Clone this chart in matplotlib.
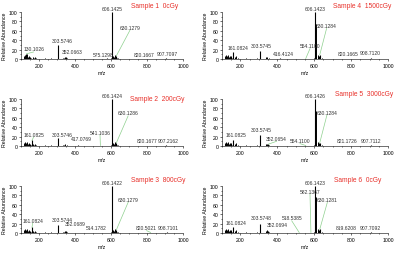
import matplotlib
matplotlib.use("Agg")
import matplotlib.pyplot as plt
from matplotlib.ticker import MultipleLocator

plt.rcParams['font.family'] = ['Liberation Sans', 'DejaVu Sans']

# panel titles
titles = ["Sample 1  0cGy", "Sample 4  1500cGy", "Sample 2  200cGy",
          "Sample 5  3000cGy", "Sample 3  800cGy", "Sample 6  0cGy"]

# unlabeled peaks, shared m/z positions
minor_mz = [115, 120, 124, 128, 133, 137, 142, 147, 151, 156, 168, 172, 178,
            185, 198, 215, 232, 250, 268, 288, 320, 336, 341, 346, 357, 364,
            380, 450, 505, 590, 598, 607.15, 612, 618, 622, 626, 634, 640,
            660, 700, 860, 950]
minor_int = [
    [6, 9, 4, 7, 10, 5, 6, 4, 5, 3, 4, 3, 5, 2, 1, 1, 2, 1, 2, 1, 1, 2, 3, 4, 2, 1,
     1, 1, 1, 1, 2, 76, 6, 4, 8, 5, 3, 2, 1, 1, 1, 1],
    [7, 8, 5, 6, 9, 4, 7, 5, 6, 3, 4, 3, 6, 2, 1, 1, 2, 1, 1, 2, 1, 2, 4, 5, 2, 1,
     1, 1, 1, 1, 2, 74, 7, 5, 9, 6, 4, 2, 1, 1, 1, 1],
    [6, 8, 4, 7, 9, 5, 6, 4, 5, 3, 4, 3, 5, 2, 1, 1, 2, 1, 2, 1, 1, 2, 3, 5, 2, 1,
     1, 1, 1, 1, 2, 75, 6, 4, 8, 5, 3, 2, 1, 1, 1, 1],
    [7, 9, 5, 6, 8, 4, 6, 5, 6, 3, 4, 3, 6, 2, 1, 1, 2, 1, 1, 2, 1, 2, 4, 5, 2, 1,
     1, 1, 1, 1, 2, 74, 7, 5, 8, 6, 4, 2, 1, 1, 1, 1],
    [6, 8, 4, 7, 9, 5, 6, 4, 5, 3, 4, 3, 5, 2, 1, 1, 2, 1, 2, 1, 1, 2, 3, 5, 2, 1,
     1, 1, 1, 1, 2, 75, 6, 5, 8, 5, 3, 2, 1, 1, 1, 1],
    [7, 9, 5, 6, 8, 4, 6, 5, 6, 3, 4, 3, 6, 2, 1, 1, 2, 1, 1, 2, 1, 2, 4, 6, 2, 1,
     1, 1, 1, 1, 2, 76, 7, 5, 9, 6, 4, 2, 1, 1, 1, 1],
]

# labeled peaks: text, m/z, intensity
peak_labels = [
    ["130.1026", "303.5746", "352.0663", "575.1298", "606.1425", "630.1279", "820.1667", "907.7097"],
    ["161.0824", "303.5745", "416.4124", "554.1100", "606.1423", "630.1284", "820.1665", "908.7120"],
    ["161.0825", "303.5746", "417.0769", "541.1036", "606.1424", "630.1286", "820.1677", "907.2162"],
    ["161.0825", "303.5745", "352.0654", "554.1100", "606.1426", "630.1284", "821.1726", "907.7112"],
    ["161.0824", "303.5744", "352.0689", "514.1782", "606.1422", "630.1279", "820.5021", "908.7101"],
    ["161.0824", "303.5748", "352.0694", "518.5385", "582.1367", "606.1423", "630.1281", "819.6208", "907.7092"],
]
peak_int = [
    [11, 29, 5, 1.5, 100, 7, 1, 2],
    [15, 16, 2, 1, 100, 9, 1, 2],
    [12, 16, 1.5, 1, 100, 7, 1, 2],
    [13, 24, 4, 1, 100, 7, 1, 2],
    [12, 17, 5, 1, 100, 7, 1, 2],
    [13, 20, 5, 1, 1, 100, 8, 1, 2],
]

# label placement (m/z, intensity) and whether a leader line is drawn
label_pos = [
    [(170, 16), (330, 34), (385, 11), (555, 5), (606, 103), (705, 62), (785, 5), (912, 6)],
    [(185, 20), (315, 23), (432, 7), (577, 23), (606, 103), (667, 66), (783, 6), (906, 8)],
    [(170, 20), (330, 20), (437, 10), (539, 24), (606, 103), (695, 65), (798, 7), (917, 7)],
    [(176, 20), (315, 30), (396, 11), (523, 6), (606, 103), (669, 67), (776, 6), (906, 7)],
    [(165, 22), (331, 24), (400, 14), (520, 6), (606, 103), (696, 67), (798, 6), (917, 6)],
    [(176, 17), (310, 27), (400, 12), (478, 27), (577, 84), (606, 103), (671, 66), (776, 6), (906, 6)],
]
leaders = [
    [1, 0, 0, 0, 0, 1, 0, 0],
    [0, 0, 0, 1, 0, 1, 0, 0],
    [1, 0, 0, 1, 0, 1, 0, 0],
    [0, 0, 1, 1, 0, 1, 0, 0],
    [1, 0, 0, 0, 0, 1, 1, 0],
    [0, 0, 0, 1, 1, 0, 1, 0, 0],
]

# panel rectangles in pixels: left, top, width (row-major on the page)
W, H = 400, 255
panels_px = [(21, 13, 162), (222, 13, 166), (21, 100, 162),
             (222, 100, 166), (21, 187, 162), (222, 187, 166)]
title_px = [(131, 6), (333, 6), (130, 100), (335, 95), (131, 180), (334, 181)]
ax_h = 47

fig = plt.figure(figsize=(4, 2.55), dpi=100)
green = "#8ed08e"

for i in range(6):
    l, t, w = panels_px[i]
    ax = fig.add_axes([l / W, 1 - (t + ax_h) / H, w / W, ax_h / H])
    mz = [float(s) for s in peak_labels[i]]
    ax.vlines(minor_mz, 0, minor_int[i], color="black", lw=0.7)
    ax.vlines(mz, 0, peak_int[i], color="black", lw=0.8)
    for j, s in enumerate(peak_labels[i]):
        lx, ly = label_pos[i][j]
        ax.text(lx, ly, s, ha="center", va="bottom", fontsize=3.6,
                color="#333333", clip_on=False)
        if leaders[i][j]:
            ax.plot([lx, mz[j]], [ly - 1, peak_int[i][j]], color=green,
                    lw=0.5, clip_on=False)
    ax.set_xlim(100, 1000)
    ax.set_ylim(0, 100)
    ax.spines[["top", "right"]].set_visible(False)
    for sp in ax.spines.values():
        sp.set_linewidth(0.4)
    ax.xaxis.set_major_locator(MultipleLocator(200))
    ax.xaxis.set_minor_locator(MultipleLocator(50))
    ax.yaxis.set_major_locator(MultipleLocator(20))
    ax.yaxis.set_minor_locator(MultipleLocator(10))
    ax.tick_params(which="both", labelsize=3.7, width=0.4, pad=1)
    ax.tick_params(which="major", length=1.6)
    ax.tick_params(which="minor", length=1.0)
    ax.set_xlabel("m/z", fontsize=3.7, labelpad=2)
    ax.set_ylabel("Relative Abundance", fontsize=3.8, labelpad=1.5)
    tx, ty = title_px[i]
    fig.text(tx / W, 1 - ty / H, titles[i], color="#e8302a", fontsize=4.8,
             va="center", ha="left")

fig.savefig("out.png", dpi=100)
